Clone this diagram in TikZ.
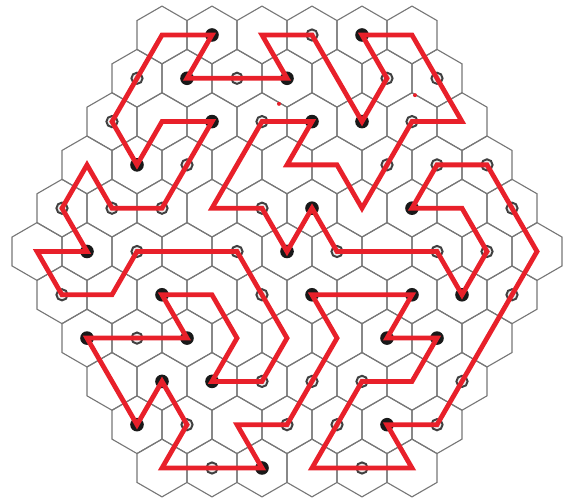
\documentclass[tikz,border=0pt]{standalone}
\usepackage{tikz}
\definecolor{routered}{HTML}{E8202A}
\definecolor{gridgray}{HTML}{777777}

\begin{document}
\begin{tikzpicture}[x=0.625cm,y=-1.0825cm,
  hexline/.style={gridgray,line width=0.8pt},
  route/.style={routered,line width=3.4pt},
  blackdot/.style={fill=black!90},
  opendot/.style={draw=black!75,fill=gray!15,line width=1.4pt}]
  \useasboundingbox (-11.48,-0.808) rectangle (11.08,10.739);
  % hexagonal board, rows 0..10, cell (r,k) sits at (k,r)
  \foreach \r in {0,...,10}{
    \pgfmathtruncatemacro\n{11-abs(\r-5)}
    \pgfmathtruncatemacro\kmin{1-\n}
    \pgfmathtruncatemacro\knext{3-\n}
    \pgfmathtruncatemacro\kmax{\n-1}
    \foreach \k in {\kmin,\knext,...,\kmax}{
      \coordinate (c\r_\k) at (\k,\r);
      \draw[hexline] (\k,\r) ++(0,-2/3) -- ++(1,1/3) -- ++(0,2/3) -- ++(-1,1/3)
        -- ++(-1,-1/3) -- ++(0,-2/3) -- cycle;
    }
  }
  % marked cells
  \foreach \r/\k in {0/-3,0/3,1/-4,1/0,2/-3,2/1,2/3,3/-6,4/1,4/5,5/-8,5/0,6/-5,6/1,6/5,
    6/7,7/-8,7/-4,7/4,7/6,8/-5,8/-3,9/-6,9/4,10/-1}
    \fill[blackdot] (c\r_\k) circle (0.17cm);
  \foreach \r/\k in {0/1,1/-6,1/-2,1/4,1/6,2/-7,2/-1,2/5,3/-4,3/4,3/6,3/8,4/-9,4/-7,4/-5,
    4/-1,4/9,5/-6,5/-2,5/2,5/6,5/8,6/-9,6/-1,6/9,7/-6,8/-1,8/1,8/3,8/7,9/-4,9/0,9/2,9/6,
    10/-3,10/3}
    \draw[opendot] (c\r_\k) circle (0.14cm);
  % closed red route
  \draw[route] (c0_-5) -- (c0_-3) -- (c1_-4) -- (c1_0) -- (c0_-1) -- (c0_1) -- (c2_3)
    -- (c1_4) -- (c0_3) -- (c0_5) -- (c2_7) -- (c2_5) -- (c4_3) -- (c3_2) -- (c3_0)
    -- (c2_1) -- (c2_-1) -- (c4_-3) -- (c4_-1) -- (c5_0) -- (c4_1) -- (c5_2) -- (c5_6)
    -- (c6_7) -- (c5_8) -- (c4_7) -- (c4_5) -- (c3_6) -- (c3_8) -- (c5_10) -- (c9_6)
    -- (c9_4) -- (c10_5) -- (c10_1) -- (c8_3) -- (c8_5) -- (c7_6) -- (c7_4) -- (c6_5)
    -- (c6_1) -- (c7_2) -- (c9_0) -- (c9_-2) -- (c10_-1) -- (c10_-5) -- (c9_-4)
    -- (c8_-5) -- (c9_-6) -- (c7_-8) -- (c7_-4) -- (c6_-5) -- (c6_-3) -- (c7_-2)
    -- (c8_-3) -- (c8_-1) -- (c7_0) -- (c5_-2) -- (c5_-6) -- (c6_-7) -- (c6_-9)
    -- (c5_-10) -- (c5_-8) -- (c4_-9) -- (c3_-8) -- (c4_-7) -- (c4_-5) -- (c2_-3)
    -- (c2_-5) -- (c3_-6) -- (c2_-7) -- cycle;
  % two stray specks
  \fill[routered] (-0.32,1.59) circle (0.05cm);
  \fill[routered] (5.12,1.39) circle (0.05cm);
\end{tikzpicture}
\end{document}
